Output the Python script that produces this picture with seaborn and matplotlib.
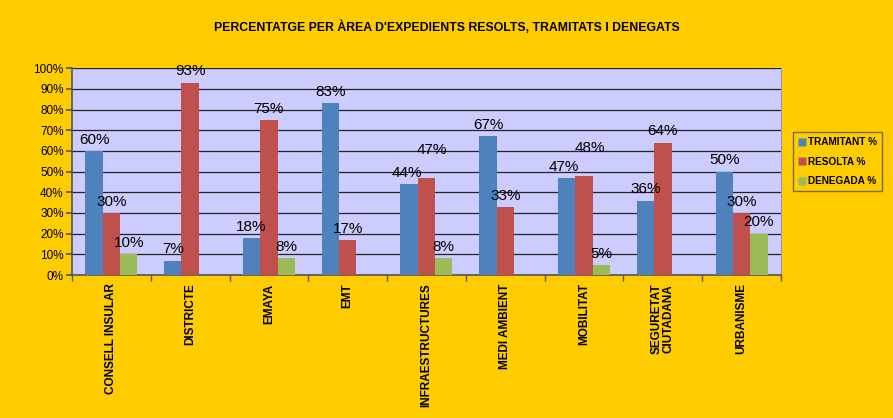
import pandas as pd
import seaborn as sns
import matplotlib.pyplot as plt
from matplotlib.lines import Line2D

# --- Data ---
areas = ["CONSELL INSULAR", "DISTRICTE", "EMAYA", "EMT", "INFRAESTRUCTURES",
         "MEDI AMBIENT", "MOBILITAT", "SEGURETAT\nCIUTADANA", "URBANISME"]
tramitant = [60, 7, 18, 83, 44, 67, 47, 36, 50]
resolta = [30, 93, 75, 17, 47, 33, 48, 64, 30]
denegada = [10, 0, 8, 0, 8, 0, 5, 0, 20]
series = ["TRAMITANT %", "RESOLTA %", "DENEGADA %"]
colors = ["#4F81BD", "#C0504D", "#9BBB59"]

df = pd.DataFrame({"area": areas, series[0]: tramitant,
                   series[1]: resolta, series[2]: denegada})
long_df = df.melt(id_vars="area", var_name="serie", value_name="pct")

# --- Style ---
sns.set_theme(style="white")
plt.rcParams['font.family'] = ['Liberation Sans', 'DejaVu Sans']
plt.rcParams['text.color'] = 'black'
plt.rcParams['xtick.color'] = 'black'
plt.rcParams['ytick.color'] = 'black'

fig = plt.figure(figsize=(8.93, 4.18), dpi=100, facecolor="#FFCC00")
ax = fig.add_axes([0.0806, 0.342, 0.794, 0.495])
ax.set_facecolor("#CCCCFF")

sns.barplot(data=long_df, x="area", y="pct", hue="serie", hue_order=series,
            palette=colors, width=0.66, gap=0, saturation=1, ax=ax,
            edgecolor="none", legend=True, zorder=3)

# data labels; raise a red label when it would collide with the blue one
label_sets = []
for cont in ax.containers:
    labels = [f"{v:.0f}%" if v > 0 else "" for v in cont.datavalues]
    label_sets.append(ax.bar_label(cont, labels=labels, padding=3, fontsize=11,
                                   color="black"))
for i, (b, r) in enumerate(zip(tramitant, resolta)):
    if abs(b - r) < 6:
        txt = label_sets[1][i]
        x, y = txt.xyann
        txt.xyann = (x + 4, y + 12)
        label_sets[0][i].xyann = (label_sets[0][i].xyann[0] - 2, label_sets[0][i].xyann[1])

ax.set_ylim(0, 100)
ax.set_yticks(range(0, 101, 10))
ax.set_yticklabels([f"{v}%" for v in range(0, 101, 10)], fontsize=8.5)
ax.set_xlim(-0.5, len(areas) - 0.5)
ax.yaxis.grid(True, color="#222222", linewidth=0.9, zorder=0)
ax.set_axisbelow(True)

ax.set_xticks(range(len(areas)))
ax.set_xticklabels(areas, rotation=90, fontsize=8.5, fontweight="bold",
                   va="top", ha="center", linespacing=1.0)
ax.tick_params(axis="x", length=0, pad=6)
ax.set_xticks([i - 0.5 for i in range(len(areas) + 1)], minor=True)
ax.tick_params(axis="x", which="minor", length=4, color="#555555", direction="out",
               bottom=True)
ax.tick_params(axis="y", length=4, color="#555555", direction="out", left=True, pad=2)
ax.set_xlabel("")
ax.set_ylabel("")

ax.spines["top"].set_visible(False)
ax.spines["right"].set_color("#9999AA")
ax.spines["right"].set_linewidth(0.8)
for side in ["left", "bottom"]:
    ax.spines[side].set_color("#555555")
    ax.spines[side].set_linewidth(1.2)

handles = [Line2D([], [], marker="s", linestyle="none", markersize=6,
                  markerfacecolor=c, markeredgecolor="none") for c in colors]
leg = ax.legend(handles, series, loc="upper left", bbox_to_anchor=(0.888, 0.684),
                bbox_transform=fig.transFigure, frameon=True, fancybox=False,
                prop={"size": 7.2, "weight": "bold"}, handletextpad=0.1,
                handlelength=0.9, borderpad=0.5, labelspacing=0.95,
                borderaxespad=0)
leg.get_frame().set_facecolor("#FFCC00")
leg.get_frame().set_edgecolor("#555555")
leg.get_frame().set_linewidth(1.0)

fig.text(0.5, 0.935, "PERCENTATGE PER ÀREA D'EXPEDIENTS RESOLTS, TRAMITATS I DENEGATS",
         ha="center", va="center", fontsize=8.8, fontweight="bold")

plt.savefig("out.png", dpi=100, facecolor=fig.get_facecolor())
